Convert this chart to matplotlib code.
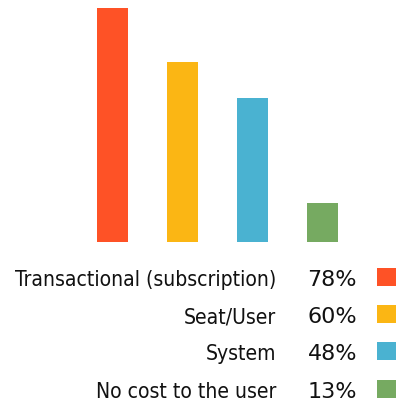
import matplotlib.pyplot as plt
from matplotlib.patches import Rectangle

categories = ["Transactional (subscription)", "Seat/User", "System", "No cost to the user"]
values = [78, 60, 48, 13]
colors = ["#FE5226", "#FBB614", "#4AB2D1", "#76AA61"]

W, H = 405, 404
fig = plt.figure(figsize=(W / 100, H / 100), dpi=100)

# bars: baseline at 242px from top, 3px per percent
ax = fig.add_axes([0, 162 / H, 1, 242 / H])
x = list(range(len(values)))
ax.bar(x, values, width=31 / 70, color=colors)
ax.set_xlim(-112.5 / 70, (W - 112.5) / 70)
ax.set_ylim(0, 242 / 3)
ax.axis("off")

# legend rows below, in pixel coordinates
lg = fig.add_axes([0, 0, 1, 1], zorder=-1)
lg.set_xlim(0, W)
lg.set_ylim(H, 0)
lg.axis("off")
lab_font = dict(family="DejaVu Sans", stretch="condensed", fontsize=15.1, color="#111111")
pct_font = dict(family="DejaVu Sans", fontsize=16, color="#111111")
for i, (cat, v, c) in enumerate(zip(categories, values, colors)):
    base = 286 + i * 37.2
    lg.text(276, base, cat, ha="right", va="baseline", **lab_font)
    lg.text(357, base, f"{v}%", ha="right", va="baseline", **pct_font)
    lg.add_patch(Rectangle((377, base - 18), 19, 18, color=c, lw=0))

fig.savefig("out.png", dpi=100)
